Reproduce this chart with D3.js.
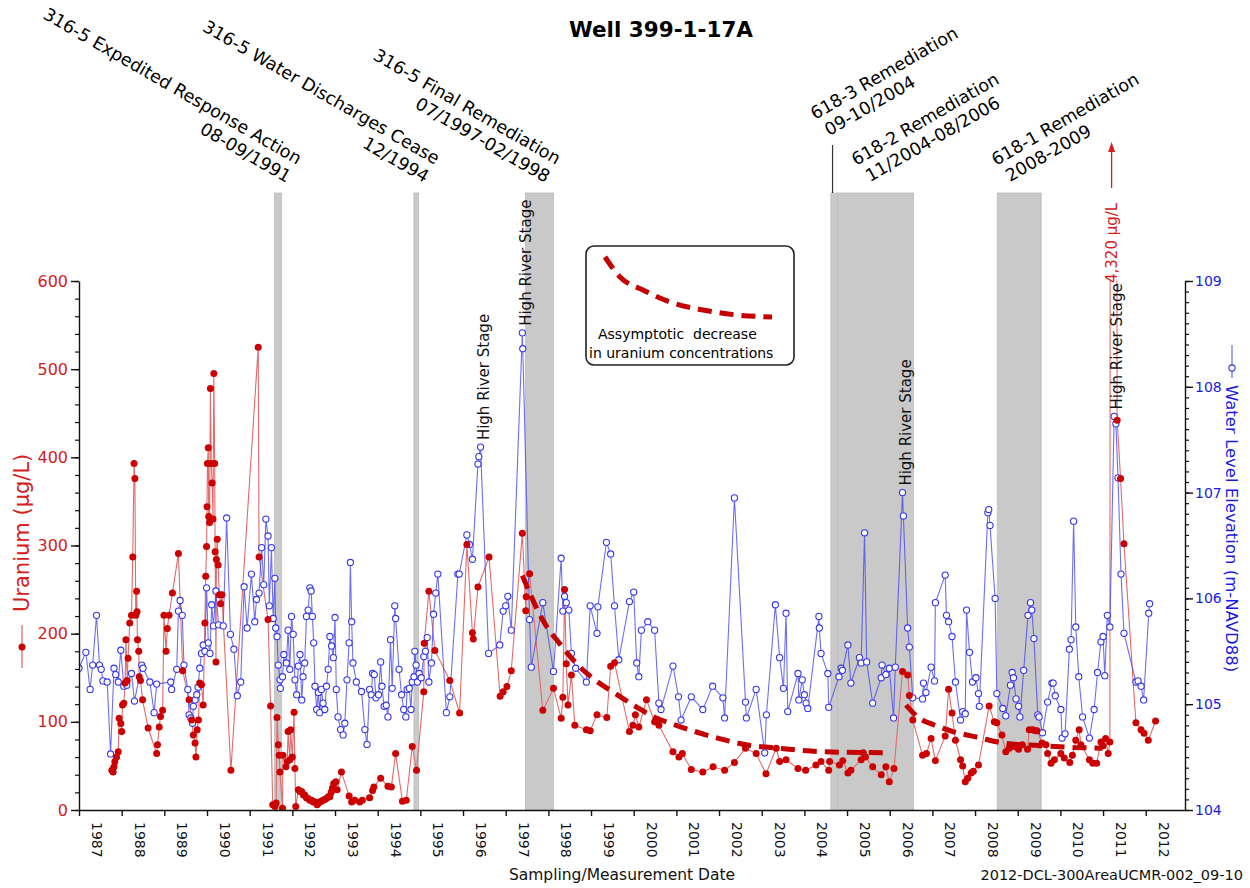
<!DOCTYPE html>
<html>
<head>
<meta charset="utf-8">
<script src="https://cdn.jsdelivr.net/npm/d3@7"></script>
<style>
  body { margin: 0; background: #fff; }
  svg { display: block; }
  text { font-family: "DejaVu Sans", sans-serif; }
</style>
</head>
<body>
<svg id="chart" width="1250" height="888"></svg>
<script>
// ---- Water level elevation (m-NAVD88) ----
const waterDates = [1987.00,1987.16,1987.26,1987.32,1987.41,1987.48,1987.52,1987.56,1987.66,1987.74,1987.82,1987.86,1987.92,1987.98,1988.05,1988.12,1988.23,1988.30,1988.47,1988.50,1988.66,1988.76,1988.82,1989.15,1989.17,1989.29,1989.33,1989.37,1989.42,1989.46,1989.55,1989.58,1989.62,1989.66,1989.68,1989.72,1989.76,1989.79,1989.83,1989.87,1989.91,1989.95,1989.99,1990.03,1990.07,1990.11,1990.15,1990.21,1990.27,1990.38,1990.46,1990.55,1990.63,1990.71,1990.79,1990.87,1990.94,1991.04,1991.12,1991.16,1991.22,1991.28,1991.33,1991.38,1991.43,1991.46,1991.51,1991.55,1991.59,1991.61,1991.64,1991.67,1991.71,1991.72,1991.77,1991.80,1991.86,1991.90,1991.94,1991.98,1992.02,1992.06,1992.10,1992.14,1992.18,1992.22,1992.25,1992.29,1992.33,1992.37,1992.41,1992.44,1992.47,1992.50,1992.53,1992.57,1992.61,1992.64,1992.68,1992.72,1992.76,1992.80,1992.84,1992.88,1992.92,1992.96,1993.00,1993.03,1993.07,1993.13,1993.19,1993.23,1993.28,1993.33,1993.36,1993.39,1993.42,1993.50,1993.62,1993.70,1993.75,1993.81,1993.85,1993.88,1993.92,1993.96,1994.02,1994.07,1994.10,1994.15,1994.20,1994.24,1994.30,1994.34,1994.40,1994.42,1994.50,1994.56,1994.61,1994.66,1994.69,1994.74,1994.78,1994.81,1994.85,1994.87,1994.90,1994.93,1994.97,1995.02,1995.08,1995.12,1995.16,1995.20,1995.26,1995.31,1995.36,1995.41,1995.61,1995.69,1995.88,1995.91,1996.09,1996.15,1996.22,1996.35,1996.37,1996.41,1996.60,1996.86,1996.94,1997.00,1997.05,1997.13,1997.39,1997.40,1997.56,1997.60,1997.87,1998.12,1998.30,1998.34,1998.38,1998.42,1998.48,1998.54,1998.64,1998.89,1998.98,1999.14,1999.16,1999.36,1999.46,1999.55,1999.65,1999.90,2000.00,2000.07,2000.12,2000.18,2000.33,2000.49,2000.59,2000.64,2000.92,2001.05,2001.11,2001.35,2001.62,2001.85,2002.09,2002.13,2002.36,2002.62,2002.64,2002.87,2003.07,2003.11,2003.32,2003.42,2003.51,2003.57,2003.61,2003.85,2003.87,2003.95,2004.00,2004.04,2004.08,2004.34,2004.35,2004.39,2004.55,2004.57,2004.81,2004.86,2004.89,2005.02,2005.09,2005.29,2005.33,2005.41,2005.46,2005.60,2005.80,2005.82,2005.91,2005.99,2006.09,2006.13,2006.30,2006.32,2006.42,2006.46,2006.54,2006.77,2006.79,2006.85,2006.97,2007.05,2007.07,2007.30,2007.33,2007.38,2007.46,2007.54,2007.66,2007.71,2007.77,2007.80,2007.87,2007.94,2008.02,2008.08,2008.10,2008.30,2008.32,2008.35,2008.47,2008.51,2008.65,2008.72,2008.83,2008.87,2008.90,2008.96,2009.02,2009.05,2009.14,2009.24,2009.30,2009.33,2009.38,2009.47,2009.50,2009.58,2009.70,2009.80,2009.83,2009.88,2010.01,2010.04,2010.11,2010.21,2010.25,2010.31,2010.36,2010.43,2010.52,2010.68,2010.79,2010.87,2010.95,2011.00,2011.04,2011.10,2011.16,2011.26,2011.30,2011.35,2011.42,2011.49,2011.77,2011.82,2011.89,2011.95,2012.07,2012.09];
const waterLevel = [105.34,105.49,105.14,105.37,105.84,105.37,105.33,105.22,105.21,104.53,105.34,105.28,105.21,105.51,105.17,105.18,105.29,105.03,105.37,105.34,105.21,104.92,105.19,105.21,105.14,105.33,105.88,105.98,105.84,105.37,105.14,104.90,104.87,104.82,104.98,105.04,105.09,105.16,105.34,105.48,105.56,105.50,106.10,105.58,105.48,105.94,105.74,106.07,105.75,105.74,106.76,105.66,105.52,105.08,105.21,106.11,105.72,106.23,105.78,105.99,106.05,106.48,106.13,106.75,106.59,105.93,106.48,105.81,106.19,105.72,105.64,105.37,105.23,105.15,105.26,105.47,105.39,105.70,105.33,105.83,105.66,105.23,105.09,105.36,105.47,105.04,105.26,105.39,105.83,105.89,106.10,106.07,105.83,105.58,105.17,104.95,105.11,104.92,105.14,105.01,104.95,105.17,105.33,105.64,105.55,105.44,105.82,105.14,104.88,104.76,104.71,104.82,105.23,105.58,106.34,105.78,105.39,105.21,105.12,104.76,104.62,105.14,105.09,105.29,105.28,105.06,105.09,105.40,105.17,104.98,104.99,104.88,105.61,105.15,105.93,105.81,105.33,105.09,104.95,104.88,105.14,105.15,104.95,105.21,105.26,105.50,105.37,105.21,105.29,105.25,105.45,105.50,105.63,105.21,105.39,105.85,106.05,106.23,104.92,105.07,106.23,106.23,106.60,106.51,106.37,107.27,107.34,107.43,105.48,105.56,105.88,105.93,106.02,105.70,108.51,108.36,105.80,105.35,105.96,105.31,106.38,105.88,106.02,105.96,105.89,105.48,105.34,105.21,105.93,105.67,105.92,106.53,106.42,105.93,105.42,105.97,106.06,105.39,105.26,105.70,105.78,105.70,105.01,104.95,105.36,105.07,104.85,105.07,104.95,105.17,105.06,104.87,106.95,105.02,104.87,105.14,104.54,104.90,105.94,105.44,105.15,105.86,104.93,105.29,105.04,105.23,105.09,105.01,104.96,105.83,105.72,105.48,105.29,104.97,105.26,105.34,105.32,105.56,105.20,105.44,105.39,106.62,105.40,105.01,105.25,105.37,105.28,105.34,104.87,105.35,107.00,106.78,105.72,105.54,105.06,105.05,105.20,105.11,105.35,105.22,105.96,106.22,105.84,105.78,105.64,105.21,104.85,104.93,104.91,105.89,105.49,105.21,105.25,105.10,104.98,106.81,106.84,106.69,106.00,105.10,104.96,104.89,105.18,105.30,105.25,105.05,104.98,104.88,105.32,105.84,105.96,105.89,105.62,104.90,104.88,104.73,105.02,105.20,105.20,105.08,104.95,104.68,104.72,105.52,105.61,106.73,105.73,105.26,104.88,104.68,104.95,105.30,105.59,105.64,105.27,105.84,105.73,107.72,107.65,107.14,106.23,105.67,105.21,105.22,105.17,105.04,105.86,105.95];

// ---- Uranium concentration (ug/L) ----
const uraniumDates = [1987.77,1987.80,1987.82,1987.84,1987.88,1987.92,1987.94,1987.98,1988.00,1988.02,1988.05,1988.08,1988.10,1988.13,1988.15,1988.19,1988.23,1988.26,1988.29,1988.31,1988.33,1988.35,1988.36,1988.37,1988.40,1988.41,1988.44,1988.49,1988.62,1988.82,1988.84,1988.88,1988.91,1988.96,1988.99,1989.04,1989.07,1989.11,1989.19,1989.33,1989.43,1989.58,1989.64,1989.68,1989.72,1989.74,1989.77,1989.80,1989.83,1989.87,1989.91,1989.95,1989.97,1989.99,1990.00,1990.01,1990.03,1990.04,1990.06,1990.08,1990.10,1990.12,1990.14,1990.16,1990.18,1990.19,1990.21,1990.22,1990.24,1990.26,1990.29,1990.32,1990.35,1990.56,1991.20,1991.22,1991.43,1991.49,1991.54,1991.59,1991.62,1991.64,1991.67,1991.69,1991.71,1991.77,1991.78,1991.85,1991.88,1991.90,1991.94,1991.96,1992.00,1992.04,1992.06,1992.08,1992.14,1992.18,1992.22,1992.26,1992.29,1992.33,1992.37,1992.41,1992.45,1992.49,1992.53,1992.58,1992.61,1992.64,1992.68,1992.72,1992.76,1992.80,1992.84,1992.88,1992.91,1992.94,1992.97,1993.02,1993.05,1993.15,1993.33,1993.39,1993.46,1993.58,1993.64,1993.81,1993.88,1993.91,1994.07,1994.24,1994.32,1994.42,1994.58,1994.67,1994.81,1994.91,1995.08,1995.09,1995.20,1995.34,1995.69,1995.92,1996.09,1996.22,1996.24,1996.35,1996.61,1996.87,1996.94,1997.03,1997.13,1997.39,1997.47,1997.48,1997.56,1997.87,1998.12,1998.30,1998.34,1998.38,1998.42,1998.46,1998.54,1998.62,1998.89,1998.98,1999.14,1999.37,1999.46,1999.55,1999.90,1999.98,2000.04,2000.12,2000.30,2000.49,2000.59,2000.92,2001.06,2001.14,2001.35,2001.62,2001.86,2002.13,2002.36,2002.62,2002.87,2003.10,2003.34,2003.42,2003.57,2003.85,2004.03,2004.27,2004.39,2004.57,2004.59,2004.82,2004.90,2005.02,2005.09,2005.33,2005.38,2005.43,2005.60,2005.80,2005.91,2005.99,2006.10,2006.30,2006.42,2006.46,2006.54,2006.77,2006.86,2006.97,2007.07,2007.30,2007.38,2007.46,2007.54,2007.66,2007.71,2007.77,2007.83,2007.91,2007.96,2008.08,2008.33,2008.45,2008.51,2008.63,2008.72,2008.80,2008.92,2009.02,2009.11,2009.23,2009.27,2009.35,2009.41,2009.45,2009.57,2009.66,2009.70,2009.78,2009.86,2010.01,2010.09,2010.22,2010.28,2010.36,2010.44,2010.48,2010.68,2010.76,2010.85,2010.95,2011.00,2011.06,2011.12,2011.16,2011.20,2011.33,2011.41,2011.49,2011.77,2011.89,2011.96,2012.06,2012.23];
const uraniumConc = [45,43,49,55,60,66,104,98,89,119,121,144,193,147,172,212,221,287,393,376,221,248,225,193,180,151,147,125,93,64,74,94,106,113,221,180,206,221,246,291,158,125,102,85,76,60,91,102,144,142,119,212,265,299,344,393,411,333,326,478,393,371,330,495,393,293,168,284,307,278,244,234,244,45,525,287,216,118,6,4,8,105,74,62,43,2,62,49,55,89,57,91,60,111,47,4,23,21,21,17,17,14,13,11,11,9,9,6,8,9,10,11,12,13,15,15,20,25,30,32,23,43,16,9,11,9,11,14,22,26,36,27,26,64,10,11,72,45,134,189,248,181,147,110,301,201,194,253,287,129,134,140,158,314,226,242,268,113,138,104,128,250,166,119,153,96,91,90,108,105,163,167,89,96,108,94,125,100,96,66,60,64,46,43,49,45,54,70,64,41,70,55,57,47,45,51,55,45,55,51,56,42,45,57,65,60,49,40,49,32,47,157,153,130,102,62,64,81,56,84,137,110,79,57,50,32,36,42,44,51,118,100,99,85,66,70,72,69,74,69,91,91,90,90,76,74,64,53,57,64,59,54,62,79,91,74,57,53,53,77,73,81,64,77,4320,442,376,302,99,91,87,79,101];

// ---- Asymptotic decrease trend lines (ug/L) ----
const trend1Dates = [1997.39,1997.60,1997.91,1998.26,1998.66,1999.05,1999.51,2000.06,2000.45,2001.00,2002.01,2002.64,2003.42,2004.43,2005.99];
const trend1Conc  = [266,242,212,189,166,149,134,117,106,96,81,74,70,66,65];
const trend2Dates = [2006.38,2006.70,2007.01,2007.48,2008.10,2008.65,2009.51,2010.29,2010.99];
const trend2Conc  = [119,104,97,89,82,76,73,71,70];

// ---- Remediation / event periods ----
const bandStart = [1991.58,1994.85,1997.46,2004.62,2004.78,2008.52];
const bandEnd   = [1991.75,1994.96,1998.12,2004.78,2006.56,2009.55];

// ---- Axis ticks ----
const years = d3.range(1987, 2013);
const uraniumTicks = [0,100,200,300,400,500,600];
const levelTicks = [104,105,106,107,108,109];

// ---- Text annotations ----
const eventLabelsLeft = [
  ["316-5 Expedited Response Action", "08-09/1991"],
  ["316-5 Water Discharges Cease", "12/1994"],
  ["316-5 Final Remediation", "07/1997-02/1998"]
];
const eventLabelsRight = [
  ["618-3 Remediation", "09-10/2004"],
  ["618-2 Remediation", "11/2004-08/2006"],
  ["618-1 Remediation", "2008-2009"]
];
const highStageDates = [1996.41, 1997.39, 2006.30, 2011.26];
const highStageLevels = [107.43, 108.51, 107.00, 107.72];

const svg = d3.select("#chart");
const L = 79, R = 1185, T = 281, B = 810;

const x = d3.scaleLinear().domain([1987, 2012.92]).range([L, R]);
const yU = d3.scaleLinear().domain([0, 600]).range([B, T]);
const yW = d3.scaleLinear().domain([104, 109]).range([B, T]);

svg.append("defs").append("clipPath").attr("id", "plotClip")
  .append("rect").attr("x", L).attr("y", T).attr("width", R - L).attr("height", B - T);

// Shaded periods
const bandTop = 193;
svg.append("g").selectAll("rect").data(bandStart).join("rect")
  .attr("x", d => x(d))
  .attr("width", (d, i) => x(bandEnd[i]) - x(d))
  .attr("y", bandTop).attr("height", B - bandTop)
  .attr("fill", "#c9c9c9").attr("stroke", "#bdbdbd").attr("stroke-width", 0.8);

// 618-3 leader line
svg.append("line").attr("x1", x(2004.66)).attr("x2", x(2004.66))
  .attr("y1", 145).attr("y2", bandTop).attr("stroke", "#333").attr("stroke-width", 1.2);

// Title
svg.append("text").attr("x", 661).attr("y", 37).attr("text-anchor", "middle")
  .attr("font-size", 21.5).attr("font-weight", "bold").text("Well 399-1-17A");

// Event labels (rotated)
const leftAnchors = [[297,165],[435,165],[556,165]];
eventLabelsLeft.forEach((lines, i) => {
  const g = svg.append("g").attr("transform", `translate(${leftAnchors[i][0]},${leftAnchors[i][1]}) rotate(30)`);
  lines.forEach((t, j) => g.append("text").attr("x", 0).attr("y", j * 21)
    .attr("text-anchor", "end").attr("font-size", 17.5).text(t));
});
const rightAnchors = [[815,120],[856,166],[996,166]];
eventLabelsRight.forEach((lines, i) => {
  const g = svg.append("g").attr("transform", `translate(${rightAnchors[i][0]},${rightAnchors[i][1]}) rotate(-30)`);
  lines.forEach((t, j) => g.append("text").attr("x", j === 0 ? 0 : 4).attr("y", j * 21)
    .attr("text-anchor", "start").attr("font-size", 17.5).text(t));
});

// Data layers
const plot = svg.append("g").attr("clip-path", "url(#plotClip)");
const uData = uraniumDates.map((d, i) => [d, uraniumConc[i]]);
const wData = waterDates.map((d, i) => [d, waterLevel[i]]);

plot.append("path").datum(uData)
  .attr("d", d3.line().x(d => x(d[0])).y(d => yU(d[1])))
  .attr("fill", "none").attr("stroke", "#e36a6a").attr("stroke-width", 1.1);

plot.append("path").datum(wData)
  .attr("d", d3.line().x(d => x(d[0])).y(d => yW(d[1])))
  .attr("fill", "none").attr("stroke", "#4a4af0").attr("stroke-opacity", 0.8).attr("stroke-width", 1.1);

plot.append("g").selectAll("circle").data(wData).join("circle")
  .attr("cx", d => x(d[0])).attr("cy", d => yW(d[1])).attr("r", 3.1)
  .attr("fill", "#fff").attr("stroke", "#3535ee").attr("stroke-width", 1.1);

plot.append("g").selectAll("circle").data(uData).join("circle")
  .attr("cx", d => x(d[0])).attr("cy", d => yU(d[1])).attr("r", 3.5)
  .attr("fill", "#cc0000");

// Trend lines
const trendLine = d3.line().x(d => x(d[0])).y(d => yU(d[1])).curve(d3.curveMonotoneX);
[[trend1Dates, trend1Conc], [trend2Dates, trend2Conc]].forEach(([ds, cs]) => {
  plot.append("path").datum(ds.map((d, i) => [d, cs[i]]))
    .attr("d", trendLine).attr("fill", "none")
    .attr("stroke", "#c40000").attr("stroke-width", 5).attr("stroke-dasharray", "14 8");
});

// High river stage labels
highStageDates.forEach((d, i) => {
  svg.append("text")
    .attr("transform", `translate(${x(d) + 3},${yW(highStageLevels[i]) - 7}) rotate(-90)`)
    .attr("dy", "0.35em").attr("font-size", 15).attr("fill", "#111")
    .text("High River Stage");
});

// Off-scale uranium value marker
const offX = x(2011.20);
svg.append("text").attr("transform", `translate(${offX},${T + 2}) rotate(-90)`)
  .attr("dy", "0.35em").attr("font-size", 15).attr("fill", "#d42020").text("4,320 \u03bcg/L");
svg.append("line").attr("x1", offX).attr("x2", offX).attr("y1", 188).attr("y2", 150)
  .attr("stroke", "#d42020").attr("stroke-width", 1.3);
svg.append("path").attr("d", `M${offX},142 L${offX - 3.5},152 L${offX + 3.5},152 Z`).attr("fill", "#d42020");

// Axes
const axisLeftMinor = d3.axisLeft(yU).tickValues(d3.range(0, 601, 20)).tickSize(4).tickFormat("");
const axisLeftMajor = d3.axisLeft(yU).tickValues(uraniumTicks).tickSize(8).tickSizeOuter(0);
const gl1 = svg.append("g").attr("transform", `translate(${L},0)`).call(axisLeftMinor);
gl1.select(".domain").remove();
const gl = svg.append("g").attr("transform", `translate(${L},0)`).call(axisLeftMajor);
gl.selectAll("text").attr("fill", "#d42020").attr("font-size", 16).attr("x", -11);
gl.selectAll("line, path").attr("stroke", "#111").attr("stroke-width", 1.4);
gl1.selectAll("line").attr("stroke", "#111").attr("stroke-width", 1.2);

const axisRightMinor = d3.axisRight(yW).tickValues(d3.range(104, 109.001, 0.1)).tickSize(4).tickFormat("");
const axisRightMajor = d3.axisRight(yW).tickValues(levelTicks).tickSize(8).tickSizeOuter(0).tickFormat(d3.format("d"));
const gr1 = svg.append("g").attr("transform", `translate(${R},0)`).call(axisRightMinor);
gr1.select(".domain").remove();
const gr = svg.append("g").attr("transform", `translate(${R},0)`).call(axisRightMajor);
gr.selectAll("text").attr("fill", "#1a1ae6").attr("font-size", 14).attr("x", 10);
gr.selectAll("line, path").attr("stroke", "#111").attr("stroke-width", 1.4);
gr1.selectAll("line").attr("stroke", "#111").attr("stroke-width", 1.2);

const axisBottom = d3.axisBottom(x).tickValues(years).tickSize(6).tickSizeOuter(0).tickFormat("");
const gb = svg.append("g").attr("transform", `translate(0,${B})`).call(axisBottom);
gb.selectAll("line, path").attr("stroke", "#111").attr("stroke-width", 1.4);
svg.append("g").selectAll("text").data(years).join("text")
  .attr("transform", d => `translate(${x(d + 0.42)},${B + 12}) rotate(90)`)
  .attr("dy", "0.35em").attr("font-size", 14).attr("fill", "#111").text(d => d);

// Axis titles with series keys
svg.append("text").attr("transform", `translate(22,612) rotate(-90)`)
  .attr("dy", "0.35em").attr("font-size", 21).attr("fill", "#d42020").text("Uranium (\u03bcg/L)");
svg.append("line").attr("x1", 22).attr("x2", 22).attr("y1", 625).attr("y2", 668)
  .attr("stroke", "#e36a6a").attr("stroke-width", 1.3);
svg.append("circle").attr("cx", 22).attr("cy", 647).attr("r", 3.5).attr("fill", "#cc0000");

svg.append("text").attr("transform", `translate(1232,385) rotate(90)`)
  .attr("dy", "0.35em").attr("font-size", 16.5).attr("fill", "#1a1ae6").text("Water Level Elevation (m-NAVD88)");
svg.append("line").attr("x1", 1232).attr("x2", 1232).attr("y1", 345).attr("y2", 378)
  .attr("stroke", "#6a6af0").attr("stroke-width", 1.2);
svg.append("circle").attr("cx", 1232).attr("cy", 368).attr("r", 3.1)
  .attr("fill", "#fff").attr("stroke", "#3535ee").attr("stroke-width", 1.1);

svg.append("text").attr("x", 622).attr("y", 880).attr("text-anchor", "middle")
  .attr("font-size", 15.5).attr("fill", "#111").text("Sampling/Measurement Date");
svg.append("text").attr("x", 1243).attr("y", 880).attr("text-anchor", "end")
  .attr("font-size", 14.5).attr("fill", "#111").text("2012-DCL-300AreaUCMR-002_09-10");

// Legend box for the trend line
const lg = svg.append("g").attr("transform", "translate(586,246)");
lg.append("rect").attr("width", 208).attr("height", 119).attr("rx", 8)
  .attr("fill", "#fff").attr("stroke", "#222").attr("stroke-width", 1.6);
lg.append("path")
  .attr("d", d3.line().curve(d3.curveMonotoneX)([[19,11],[34,31],[57,44],[84,56],[117,64],[151,69],[186,71]]))
  .attr("fill", "none").attr("stroke", "#c40000").attr("stroke-width", 5).attr("stroke-dasharray", "14 8");
lg.append("text").attr("x", 12).attr("y", 93).attr("font-size", 14).text("Assymptotic\u00a0 decrease");
lg.append("text").attr("x", 3).attr("y", 112).attr("font-size", 14).text("in uranium concentrations");
</script>
</body>
</html>
